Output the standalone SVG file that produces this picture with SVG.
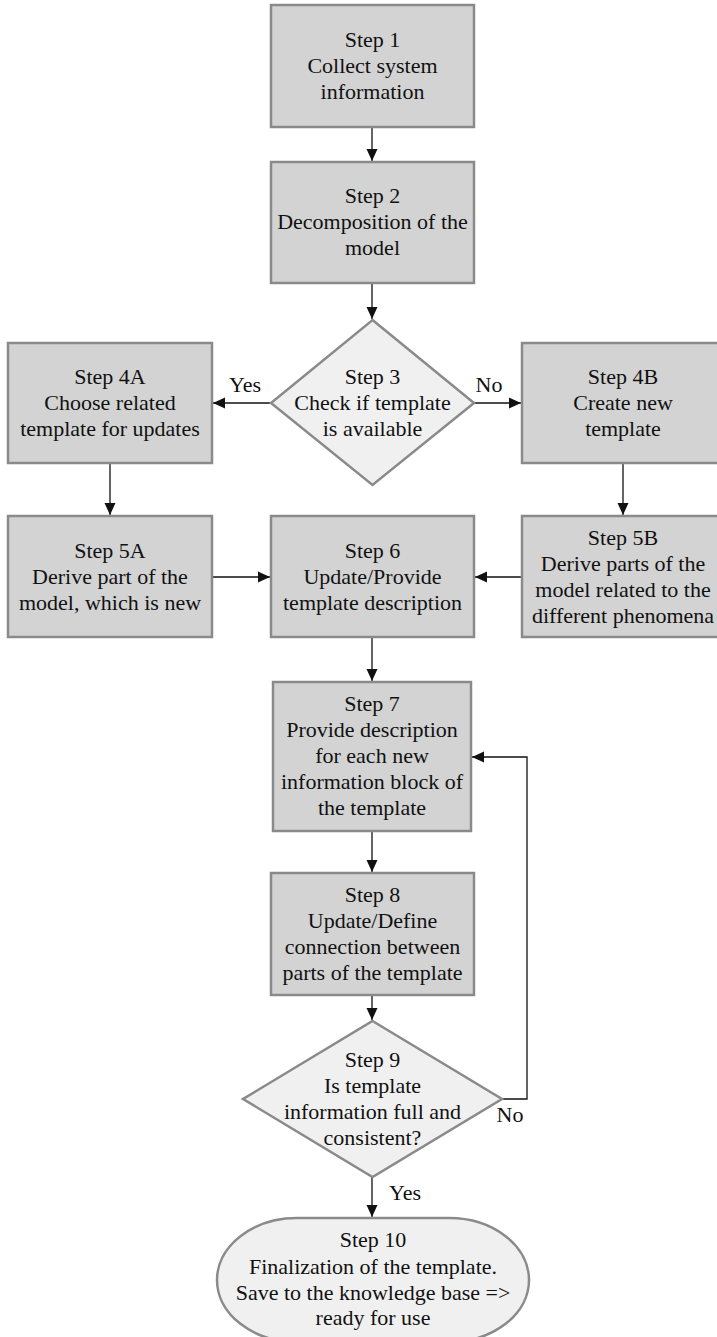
<svg xmlns="http://www.w3.org/2000/svg" width="717" height="1337" viewBox="0 0 717 1337">
  <style>
    .box { fill: #d3d3d3; stroke: #8a8a8a; stroke-width: 2.5; }
    .dec { fill: #f0f0f0; stroke: #8a8a8a; stroke-width: 2.5; }
    .term { fill: #f0f0f0; stroke: #8a8a8a; stroke-width: 2.5; }
    text { font-family: 'Liberation Serif', 'DejaVu Serif', serif; font-size: 22px; fill: #111; text-anchor: middle; }
    .edge { fill: none; stroke: #111; stroke-width: 1.3; marker-end: url(#arrow); }
  </style>
  <defs>
    <marker id="arrow" markerUnits="userSpaceOnUse" markerWidth="12" markerHeight="12" refX="12" refY="6" orient="auto">
      <path d="M0,0.5 L12,6 L0,11.5 z" fill="#111"/>
    </marker>
  </defs>
  <rect width="717" height="1337" fill="#ffffff"/>

  <g id="connectors" font-family="Liberation Serif, DejaVu Serif, serif">
    <path class="edge" d="M372,127 V161"/>
    <path class="edge" d="M372,283 V319"/>
    <path class="edge" d="M271,403 H213"/>
    <path class="edge" d="M474,403 H521"/>
    <path class="edge" d="M110,463 V515"/>
    <path class="edge" d="M623,463 V515"/>
    <path class="edge" d="M212,577 H270"/>
    <path class="edge" d="M522,577 H475"/>
    <path class="edge" d="M372,637 V681"/>
    <path class="edge" d="M372,831 V872"/>
    <path class="edge" d="M372,995 V1020"/>
    <path class="edge" d="M372,1177 V1217"/>
    <path class="edge" d="M502,1099 H527 V757 H472"/>
    <text x="245" y="392">Yes</text>
    <text x="489" y="392">No</text>
    <text x="510" y="1122">No</text>
    <text x="405" y="1200">Yes</text>
  </g>

  <g id="step1" font-family="Liberation Serif, DejaVu Serif, serif">
    <rect class="box" x="271" y="5" width="203" height="122"/>
    <text x="372.5" y="47">Step 1</text>
    <text x="372.5" y="73">Collect system</text>
    <text x="372.5" y="99">information</text>
  </g>

  <g id="step2" font-family="Liberation Serif, DejaVu Serif, serif">
    <rect class="box" x="271" y="162" width="203" height="121"/>
    <text x="372.5" y="203">Step 2</text>
    <text x="372.5" y="229">Decomposition of the</text>
    <text x="372.5" y="255">model</text>
  </g>

  <g id="step3" font-family="Liberation Serif, DejaVu Serif, serif">
    <polygon class="dec" points="372.5,320 474,403 372.5,485 271,403"/>
    <text x="372.5" y="384">Step 3</text>
    <text x="372.5" y="410">Check if template</text>
    <text x="372.5" y="436">is available</text>
  </g>

  <g id="step4a" font-family="Liberation Serif, DejaVu Serif, serif">
    <rect class="box" x="8" y="343" width="204" height="120"/>
    <text x="110" y="384">Step 4A</text>
    <text x="110" y="410">Choose related</text>
    <text x="110" y="436">template for updates</text>
  </g>

  <g id="step4b" font-family="Liberation Serif, DejaVu Serif, serif">
    <rect class="box" x="522" y="343" width="204" height="120"/>
    <text x="623" y="384">Step 4B</text>
    <text x="623" y="410">Create new</text>
    <text x="623" y="436">template</text>
  </g>

  <g id="step5a" font-family="Liberation Serif, DejaVu Serif, serif">
    <rect class="box" x="8" y="516" width="204" height="121"/>
    <text x="110" y="558">Step 5A</text>
    <text x="110" y="584">Derive part of the</text>
    <text x="110" y="610">model, which is new</text>
  </g>

  <g id="step6" font-family="Liberation Serif, DejaVu Serif, serif">
    <rect class="box" x="271" y="516" width="203" height="121"/>
    <text x="372.5" y="558">Step 6</text>
    <text x="372.5" y="584">Update/Provide</text>
    <text x="372.5" y="610">template description</text>
  </g>

  <g id="step5b" font-family="Liberation Serif, DejaVu Serif, serif">
    <rect class="box" x="522" y="516" width="204" height="121"/>
    <text x="623" y="545">Step 5B</text>
    <text x="623" y="571">Derive parts of the</text>
    <text x="623" y="597">model related to the</text>
    <text x="623" y="623">different phenomena</text>
  </g>

  <g id="step7" font-family="Liberation Serif, DejaVu Serif, serif">
    <rect class="box" x="273" y="682" width="198" height="149"/>
    <text x="372" y="711">Step 7</text>
    <text x="372" y="737">Provide description</text>
    <text x="372" y="763">for each new</text>
    <text x="372" y="789">information block of</text>
    <text x="372" y="815">the template</text>
  </g>

  <g id="step8" font-family="Liberation Serif, DejaVu Serif, serif">
    <rect class="box" x="271" y="873" width="203" height="122"/>
    <text x="372.5" y="902">Step 8</text>
    <text x="372.5" y="928">Update/Define</text>
    <text x="372.5" y="954">connection between</text>
    <text x="372.5" y="980">parts of the template</text>
  </g>

  <g id="step9" font-family="Liberation Serif, DejaVu Serif, serif">
    <polygon class="dec" points="372.5,1021 502,1099 372.5,1177 243,1099"/>
    <text x="372.5" y="1067">Step 9</text>
    <text x="372.5" y="1093">Is template</text>
    <text x="372.5" y="1119">information full and</text>
    <text x="372.5" y="1145">consistent?</text>
  </g>

  <g id="step10" font-family="Liberation Serif, DejaVu Serif, serif">
    <rect class="term" x="217" y="1218" width="312" height="124" rx="80" ry="62"/>
    <text x="373" y="1247">Step 10</text>
    <text x="373" y="1274">Finalization of the template.</text>
    <text x="373" y="1300">Save to the knowledge base =&gt;</text>
    <text x="373" y="1325">ready for use</text>
  </g>
</svg>
